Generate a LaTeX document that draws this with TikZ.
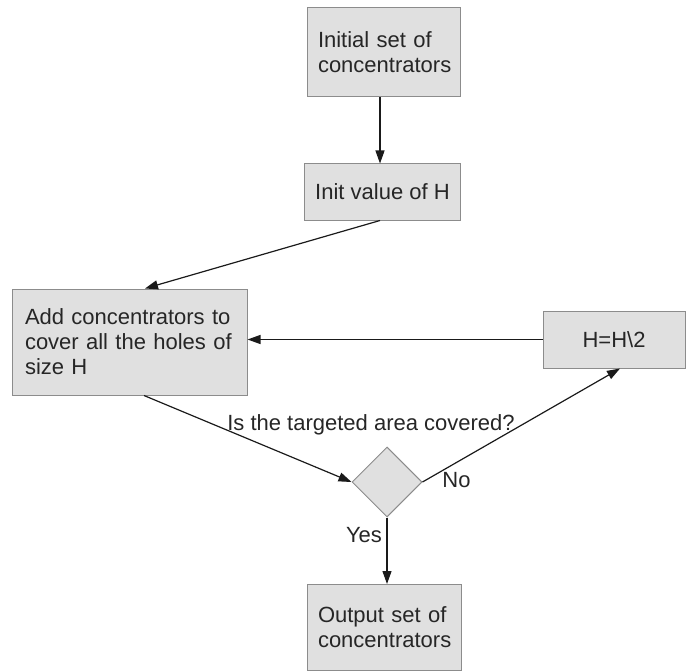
\documentclass[tikz,border=0pt]{standalone}
\usepackage{fontspec}
\setmainfont{Liberation Sans}
\usetikzlibrary{shapes.geometric,arrows.meta}
\definecolor{boxfill}{HTML}{E0E0E0}
\definecolor{boxline}{HTML}{8C8C8C}
\definecolor{txt}{HTML}{262626}
\definecolor{arr}{HTML}{1A1A1A}
\tikzset{
  box/.style={draw=boxline, fill=boxfill, line width=1pt, rectangle, inner xsep=11pt, inner ysep=0pt,
    text=txt, font=\fontsize{22}{25}\selectfont},
  dec/.style={draw=boxline, fill=boxfill, line width=1pt, diamond, aspect=1, inner sep=0pt,
    minimum width=70pt, minimum height=70pt},
  conn/.style={draw=arr, line width=1.2pt, -{Triangle[length=13pt,width=9pt]}},
  lbl/.style={text=txt, font=\fontsize{22}{25}\selectfont, inner sep=0pt, anchor=base}
}
\begin{document}
\begin{tikzpicture}[x=1pt,y=-1pt]
\useasboundingbox (0,0) rectangle (687,671);
\node[box, minimum width=153pt, minimum height=89pt, text width=131pt, align=left] (b1) at (383.5,52.5) {Initial set of\\concentrators};
\node[box, minimum width=155pt, minimum height=56pt, align=center] (b2) at (382.5,192) {Init value of H};
\node[box, minimum width=235pt, minimum height=106pt, text width=209pt, inner xsep=13pt, align=left] (b3) at (129.5,342) {Add concentrators to\\cover all the holes of\\size H};
\node[box, minimum width=142pt, minimum height=57pt, align=center] (b4) at (614,339.5) {H=H\textbackslash 2};
\node[dec] (d) at (387,482) {};
\node[box, minimum width=154pt, minimum height=86pt, text width=132pt, align=left] (b5) at (384,627.5) {Output set of\\concentrators};
\draw[conn] ([xshift=-3.5pt]b1.south) -- ([xshift=-3.5pt]b1.south |- b2.north);
\draw[conn] ([xshift=-2.5pt]b2.south) -- ([xshift=15.5pt]b3.north);
\draw[conn] (b4.west) -- (b4.west -| b3.east);
\draw[conn] ([xshift=14.5pt]b3.south) -- (d.west);
\draw[conn] (d.east) -- ([xshift=6pt]b4.south);
\draw[conn] (d.south) -- (d.south |- b5.north);
\node[lbl] (q) at (371,430) {Is the targeted area covered?};
\node[lbl] (no) at (456.5,487) {No};
\node[lbl] (yes) at (364,542) {Yes};
\end{tikzpicture}
\end{document}
